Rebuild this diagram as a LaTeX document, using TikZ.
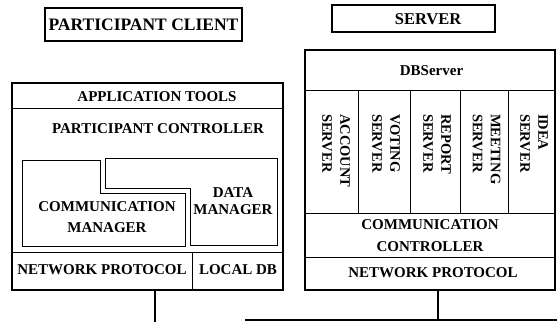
\documentclass[tikz,border=0pt]{standalone}
\usepackage{fontspec}
\setmainfont{Liberation Serif}
\begin{document}
\begin{tikzpicture}[x=1pt,y=-1pt,
  thick box/.style={draw, line width=1.8pt},
  row/.style={draw, line width=1.3pt, inner sep=0pt, anchor=north west},
  inner line/.style={draw, line width=0.9pt},
  lbl/.style={font=\fontsize{15}{18}\selectfont\bfseries, inner sep=0pt, align=center},
  big lbl/.style={font=\fontsize{16.5}{19}\selectfont\bfseries, inner sep=0pt, align=center},
  vert lbl/.style={font=\fontsize{14.5}{18}\selectfont\bfseries, inner sep=0pt, align=left, rotate=-90, anchor=west},
  wire/.style={draw, line width=1.4pt}]
\useasboundingbox (0,0) rectangle (557,322);

% ---------- client ----------
\node[draw, line width=1.3pt, minimum width=197pt, minimum height=33pt, inner sep=0pt] (pc) at (143.5,24.5) {};
\node[big lbl, font=\fontsize{17.5}{20}\selectfont\bfseries] (pct) at (143.5,24.5) {PARTICIPANT CLIENT};

\node[row, minimum width=271pt, minimum height=25pt] (approw) at (12,83) {};
\node[lbl] (appt) at (157,97) {APPLICATION TOOLS};
\node[row, minimum width=271pt, minimum height=144pt] (ctlrow) at (12,108) {};
\node[lbl] (ctlt) at (158,129) {PARTICIPANT CONTROLLER};

% communication manager (L-shaped)
\draw[inner line] (22,160) -- (100,160) -- (100,193) -- (185,193) -- (185,246) -- (22,246) -- cycle;
% data manager (L-shaped)
\draw[inner line] (105,158) -- (277,158) -- (277,245) -- (190,245) -- (190,188) -- (105,188) -- cycle;
\node[lbl, font=\fontsize{15}{21}\selectfont\bfseries] (cmt) at (107,217.5) {COMMUNICATION\\MANAGER};
\node[lbl, font=\fontsize{15}{17}\selectfont\bfseries] (dmt) at (233,201.5) {DATA\\MANAGER};

\node[row, minimum width=180pt, minimum height=38pt] (np1) at (12,252) {};
\node[lbl] (np1t) at (102,270) {NETWORK PROTOCOL};
\node[row, minimum width=91pt, minimum height=38pt] (ldb) at (192,252) {};
\node[lbl] (ldbt) at (238,270) {LOCAL DB};
\draw[thick box] (12,83) rectangle (283,290);

% ---------- server ----------
\node[draw, line width=1.3pt, minimum width=163pt, minimum height=27pt, inner sep=0pt] (srv) at (413.5,18.5) {};
\node[big lbl] (srvt) at (428,19) {SERVER};

\node[row, minimum width=250pt, minimum height=40pt] (dbrow) at (305,50) {};
\node[lbl] (dbt) at (431.5,71) {DBServer};

\node[row, minimum width=53pt, minimum height=123pt] (c1) at (305,90) {};
\node[row, minimum width=52pt, minimum height=123pt] (c2) at (358,90) {};
\node[row, minimum width=50pt, minimum height=123pt] (c3) at (410,90) {};
\node[row, minimum width=48pt, minimum height=123pt] (c4) at (460,90) {};
\node[row, minimum width=47pt, minimum height=123pt] (c5) at (508,90) {};
\node[vert lbl] (c1t) at (336,114) {ACCOUNT\\SERVER};
\node[vert lbl] (c2t) at (386,114) {VOTING\\SERVER};
\node[vert lbl] (c3t) at (437,114) {REPORT\\SERVER};
\node[vert lbl] (c4t) at (486.5,114) {MEETING\\SERVER};
\node[vert lbl] (c5t) at (534,114) {IDEA\\SERVER};

\node[row, minimum width=250pt, minimum height=44pt] (ccrow) at (305,213) {};
\node[lbl, font=\fontsize{15}{22}\selectfont\bfseries] (cct) at (430,236) {COMMUNICATION\\CONTROLLER};
\node[row, minimum width=250pt, minimum height=33pt] (np2) at (305,257) {};
\node[lbl] (np2t) at (433,273) {NETWORK PROTOCOL};
\draw[thick box] (305,50) rectangle (555,290);

% ---------- connectors ----------
\coordinate (b1) at (155,322);
\coordinate (b2) at (438,320);
\coordinate (busL) at (245,320);
\coordinate (busR) at (557,320);
\draw[wire] (b1 |- np1.south) -- (b1);
\draw[wire] (b2 |- np2.south) -- (b2);
\draw[line width=1.1pt] (busL) -- (busR);
\end{tikzpicture}
\end{document}
